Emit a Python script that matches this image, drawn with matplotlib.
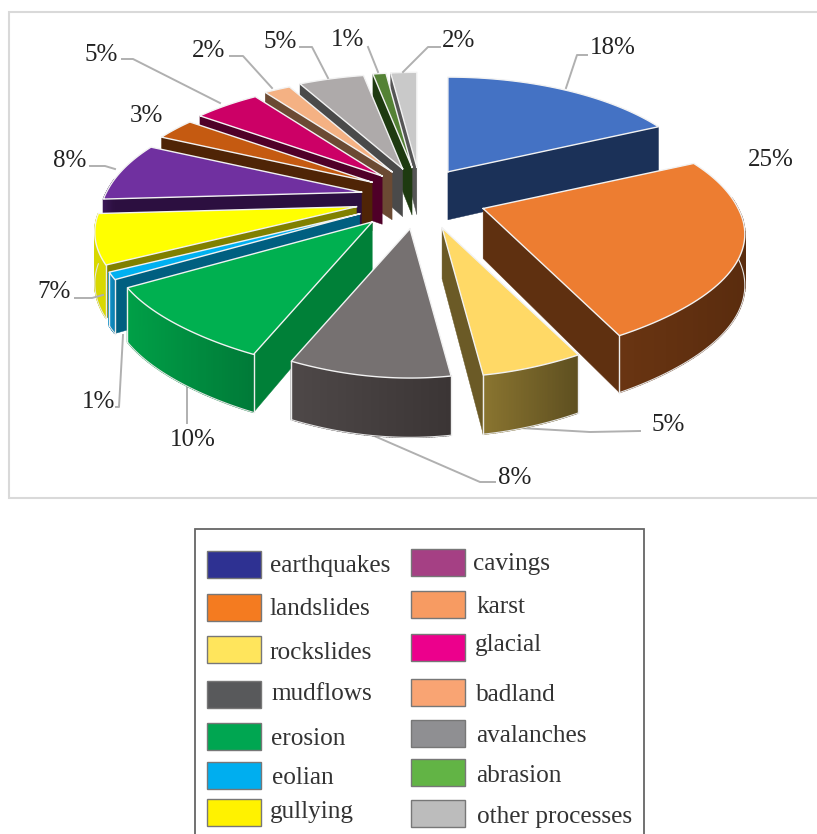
import numpy as np
import matplotlib
matplotlib.use("Agg")
import matplotlib.pyplot as plt
from matplotlib.patches import Rectangle
from matplotlib.colors import to_rgb

# data
processes = ["earthquakes", "landslides", "rockslides", "mudflows", "erosion", "eolian", "gullying",
             "cavings", "karst", "glacial", "badland", "avalanches", "abrasion", "other processes"]
shares = [18, 25, 5, 8, 10, 1, 7, 8, 3, 5, 2, 5, 1, 2]

# slice colours: top, radial face, wall left, wall right
top_colors = ["#4472C4", "#ED7D31", "#FFD966", "#767171", "#00B050", "#00B0F0", "#FFFF00",
              "#7030A0", "#C55A11", "#CC0066", "#F4B183", "#AEAAAA", "#548235", "#C9C9C9"]
face_colors = ["#1B3158", "#5F3010", "#6B5A26", "#3F3A3A", "#008038", "#005F80", "#808000",
               "#2C0F40", "#4F2406", "#4F0028", "#6B4A33", "#4A4A4A", "#1E3A10", "#555555"]
wall_left = ["#2A4A80", "#6A3512", "#8A7530", "#4E4848", "#00A047", "#1090C8", "#D8D800",
             "#3C1858", "#5A2A08", "#600030", "#7A5540", "#555555", "#2A4A18", "#666666"]
wall_right = ["#1B3158", "#5A2C0E", "#5E4F20", "#3B3535", "#007A38", "#0A7AA8", "#D8D800",
              "#2C0F40", "#4F2406", "#4F0028", "#6B4A33", "#4A4A4A", "#1E3A10", "#555555"]

# legend
legend_colors = ["#2E3192", "#F47B20", "#FFE55C", "#58595B", "#00A651", "#00AEEF", "#FFF200",
                 "#A54084", "#F79B62", "#EC008C", "#F9A473", "#8F8F92", "#62B445", "#BCBCBC"]
legend_box_y = [551, 594, 636, 681, 723, 762, 799, 549, 591, 634, 679, 720, 759, 800]
legend_text_x = [270, 269, 269, 271, 271, 272, 270, 473, 476, 475, 476, 476, 476, 477]
legend_text_y = [572, 615, 659, 700, 745, 784, 818, 570, 613, 651, 701, 742, 782, 823]

# percent labels (centre x, centre y) and their leader lines
label_pos = [(613, 48), (771, 160), (668, 425), (515, 478), (193, 440), (99, 402), (54, 292),
             (70, 161), (146, 116), (101, 55), (209, 51), (280, 42), (348, 40), (459, 41)]
leaders = [[(566, 88), (577, 55), (587, 55)], [],
           [(520, 428), (590, 432), (640, 431)], [(372, 435), (480, 482), (495, 482)],
           [(187, 385), (187, 423)], [(123, 335), (119, 407), (116, 407)],
           [(75, 298), (92, 298), (103, 295)], [(90, 166), (105, 166), (115, 169)],
           [], [(122, 59), (133, 59), (220, 103)], [(230, 56), (243, 56), (272, 88)],
           [(300, 47), (312, 47), (328, 78)], [(368, 47), (378, 72)],
           [(403, 72), (428, 47), (440, 47)]]

# pie geometry, all in pixels of the figure
CX, CY = 420, 198
EXPL_X, EXPL_Y = 62, 31
RAD_X, RAD_FAR, RAD_NEAR, PERSP = 255, 116, 108, 0.2246


def rim(apex, theta):
    u, v = np.sin(theta), -np.cos(theta)
    s = 1 / (1 - PERSP * v)
    rad_y = np.where(v > 0, RAD_NEAR, RAD_FAR)
    return apex[0] + RAD_X * u * s, apex[1] + rad_y * v * s + 10 * np.clip(v, 0, 1) ** 8


def depth(y):
    return 44 + 0.055 * (y - 100)


def down(pt):
    return pt[0], pt[1] + depth(pt[1])


def draw_radial_face(ax, apex, outer, inside, color, z):
    ex, ey = outer[0] - apex[0], outer[1] - apex[1]
    ix, iy = inside[0] - apex[0], inside[1] - apex[1]
    if ex * iy - ey * ix <= 0 and ex > 0 or ex * iy - ey * ix >= 0 and ex < 0:
        a2, o2 = down(apex), down(outer)
        ax.fill([apex[0], outer[0], o2[0], a2[0]], [apex[1], outer[1], o2[1], a2[1]],
                color=color, lw=0.3, zorder=z)


fig = plt.figure(figsize=(8.17, 8.34), dpi=100)
ax = fig.add_axes([0, 0, 1, 1])
ax.set_xlim(0, 817)
ax.set_ylim(834, 0)
ax.axis("off")

ax.add_patch(Rectangle((9, 12), 830, 486, fc="white", ec="#D9D9D9", lw=1.5, zorder=0))

edges = 2 * np.pi * np.cumsum([0] + shares) / sum(shares)
mids = (edges[:-1] + edges[1:]) / 2
apexes = []
for m in mids:
    s = 1 / (1 + PERSP * np.cos(m))
    apexes.append((CX + EXPL_X * np.sin(m) * s, CY - EXPL_Y * np.cos(m)))

# far slices first so the near ones cover them
z = 1
for i in np.argsort([a[1] for a in apexes]):
    apex = apexes[i]
    th = np.linspace(edges[i], edges[i + 1], 60)
    xs, ys = rim(apex, th)
    inside = rim(apex, mids[i])
    inside = ((inside[0] + apex[0]) / 2, (inside[1] + apex[1]) / 2)

    draw_radial_face(ax, apex, rim(apex, edges[i]), inside, face_colors[i], z)
    draw_radial_face(ax, apex, rim(apex, edges[i + 1]), inside, face_colors[i], z)
    z += 1

    # outer wall, only the part turned to the viewer
    c0, c1 = np.array(to_rgb(wall_left[i])), np.array(to_rgb(wall_right[i]))
    front = np.where(-np.cos(th) > -0.12)[0]
    if len(front) > 1:
        for j in front[:-1]:
            frac = (xs[j] - xs[front].min()) / max(np.ptp(xs[front]), 1)
            col = c0 + (c1 - c0) * frac
            p0, p1 = (xs[j], ys[j]), (xs[j + 1], ys[j + 1])
            q0, q1 = down(p0), down(p1)
            ax.fill([p0[0], p1[0], q1[0], q0[0]], [p0[1], p1[1], q1[1], q0[1]],
                    color=col, lw=1.0, zorder=z)
        z += 1
        bx, by = down((xs[front], ys[front]))
        ax.plot(bx, by, color="#E4E4E4", lw=0.8, zorder=z)

    # corner lines between wall and radial face
    for e in (edges[i], edges[i + 1]):
        p = rim(apex, e)
        if -np.cos(e) > 0.3:
            q = down(p)
            ax.plot([p[0], q[0]], [p[1], q[1]], color="#EDEDED", lw=1, zorder=z)
    z += 1

    ax.fill(np.r_[apex[0], xs], np.r_[apex[1], ys], color=top_colors[i], lw=0, zorder=z)
    ax.plot(np.r_[apex[0], xs, apex[0]], np.r_[apex[1], ys, apex[1]], color="#F2F2F2", lw=1, zorder=z + 1)
    z += 2

# leader lines and percent labels
for i, pct in enumerate(shares):
    if leaders[i]:
        lx, ly = zip(*leaders[i])
        ax.plot(lx, ly, color="#B0B0B0", lw=1.4, zorder=z if i not in (2, 3, 4) else 0.5)
    ax.text(label_pos[i][0], label_pos[i][1], f"{pct}%", family="Liberation Serif", fontsize=18,
            color="#222222", ha="center", va="center", zorder=z + 1)

# hand drawn legend box
ax.add_patch(Rectangle((195, 529), 449, 320, fc="white", ec="#666666", lw=1.3, zorder=z))
for i, name in enumerate(processes):
    box_x = 207 if i < 7 else 411
    ax.add_patch(Rectangle((box_x, legend_box_y[i]), 54, 27, fc=legend_colors[i], ec="#777777", lw=1, zorder=z + 1))
    ax.text(legend_text_x[i], legend_text_y[i], name, family="Liberation Serif", fontsize=18.2,
            color="#333333", ha="left", va="baseline", zorder=z + 1)

fig.savefig("out.png", dpi=100)
